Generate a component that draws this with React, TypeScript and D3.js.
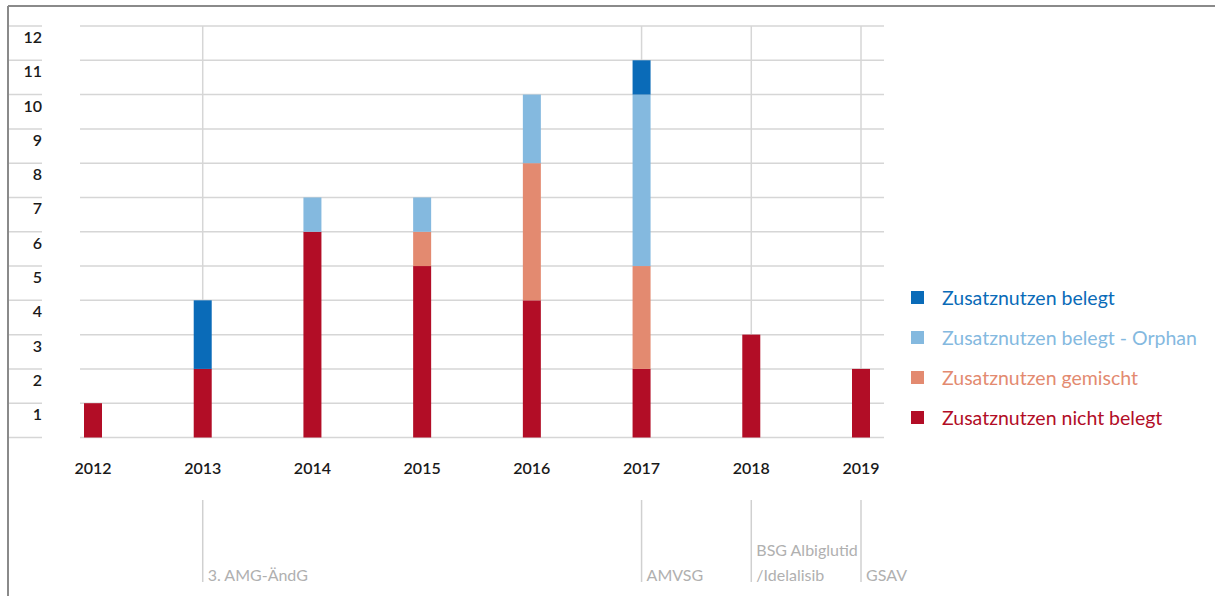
import React from "react";
import * as d3 from "d3";

const years = ["2012", "2013", "2014", "2015", "2016", "2017", "2018", "2019"];
const nichtBelegt = [1, 2, 6, 5, 4, 2, 3, 2];
const gemischt = [0, 0, 0, 1, 4, 3, 0, 0];
const orphan = [0, 0, 1, 1, 2, 5, 0, 0];
const belegt = [0, 2, 0, 0, 0, 1, 0, 0];
const yTicks = [1, 2, 3, 4, 5, 6, 7, 8, 9, 10, 11, 12];

const seriesNames = [
  "Zusatznutzen nicht belegt",
  "Zusatznutzen gemischt",
  "Zusatznutzen belegt - Orphan",
  "Zusatznutzen belegt",
];
const seriesColors = ["#b20d26", "#e38a70", "#84b9df", "#0a6bb8"];
const legendOrder = [3, 2, 1, 0];

const markerYears = ["2013", "2017", "2018", "2019"];
const markerLabels = [["3. AMG-ÄndG"], ["AMVSG"], ["BSG Albiglutid", "/Idelalisib"], ["GSAV"]];
const gridLineYears = ["2013", "2017", "2018", "2019"];

export default function App() {
  const W = 1215, H = 596;
  const x = d3.scalePoint<string>().domain(years).range([93, 861]);
  const y = d3.scaleLinear().domain([0, 12]).range([437.5, 26]);
  const barW = 18;
  const table = years.map((yr, i) => ({
    year: yr,
    s0: nichtBelegt[i],
    s1: gemischt[i],
    s2: orphan[i],
    s3: belegt[i],
  }));
  const stack = d3.stack<any>().keys(["s0", "s1", "s2", "s3"])(table);
  const font = "Lato, 'Open Sans', sans-serif";

  return (
    <svg width={W} height={H} style={{ position: "absolute", left: 0, top: 0, background: "#fff" }}>
      <rect x={0} y={0} width={W} height={H} fill="#fff" />
      {/* frame */}
      <line x1={8} x2={W} y1={6} y2={6} stroke="#8a8a8a" strokeWidth={2} />
      <line x1={8} x2={8} y1={6} y2={H} stroke="#8a8a8a" strokeWidth={2} />
      {/* horizontal grid */}
      {[0, ...yTicks].map((t) => (
        <g key={t}>
          <line x1={9} x2={42} y1={y(t)} y2={y(t)} stroke="#d6d6d6" strokeWidth={1.5} />
          <line x1={80} x2={884} y1={y(t)} y2={y(t)} stroke="#d6d6d6" strokeWidth={1.5} />
        </g>
      ))}
      {/* vertical grid */}
      {gridLineYears.map((yr) => (
        <line key={yr} x1={x(yr)} x2={x(yr)} y1={y(12)} y2={y(0)} stroke="#d6d6d6" strokeWidth={1.5} />
      ))}
      {/* y labels */}
      {yTicks.map((t) => (
        <text key={t} x={42} y={y(t) + 17} textAnchor="end" fontFamily={font} fontSize={16} fontWeight={600} fill="#1a1a1a">
          {t}
        </text>
      ))}
      {/* bars */}
      {stack.map((layer, si) => (
        <g key={si} fill={seriesColors[si]}>
          {layer.map((d, i) =>
            d[1] - d[0] > 0 ? (
              <rect key={i} x={(x(years[i]) as number) - barW / 2} width={barW} y={y(d[1])} height={y(d[0]) - y(d[1])} />
            ) : null
          )}
        </g>
      ))}
      {/* x labels */}
      {years.map((yr) => (
        <text key={yr} x={x(yr)} y={474} textAnchor="middle" fontFamily={font} fontSize={16} fontWeight={600} fill="#1a1a1a">
          {yr}
        </text>
      ))}
      {/* markers */}
      {markerYears.map((yr, i) => (
        <g key={yr}>
          <line x1={(x(yr) as number)} x2={(x(yr) as number)} y1={500} y2={582} stroke="#d0d0d0" strokeWidth={1.5} />
          {markerLabels[i].map((l, j) => (
            <text
              key={j}
              x={(x(yr) as number) + 5}
              y={581 - (markerLabels[i].length - 1 - j) * 25}
              fontFamily={font}
              fontSize={16}
              fill="#b0b0b0"
            >
              {l}
            </text>
          ))}
        </g>
      ))}
      {/* legend */}
      {legendOrder.map((si, k) => (
        <g key={si} transform={`translate(911, ${291 + k * 40})`}>
          <rect x={0} y={0} width={13} height={13} fill={seriesColors[si]} />
          <text x={31} y={14} fontFamily={font} fontSize={19.5} fill={seriesColors[si]}>
            {seriesNames[si]}
          </text>
        </g>
      ))}
    </svg>
  );
}
